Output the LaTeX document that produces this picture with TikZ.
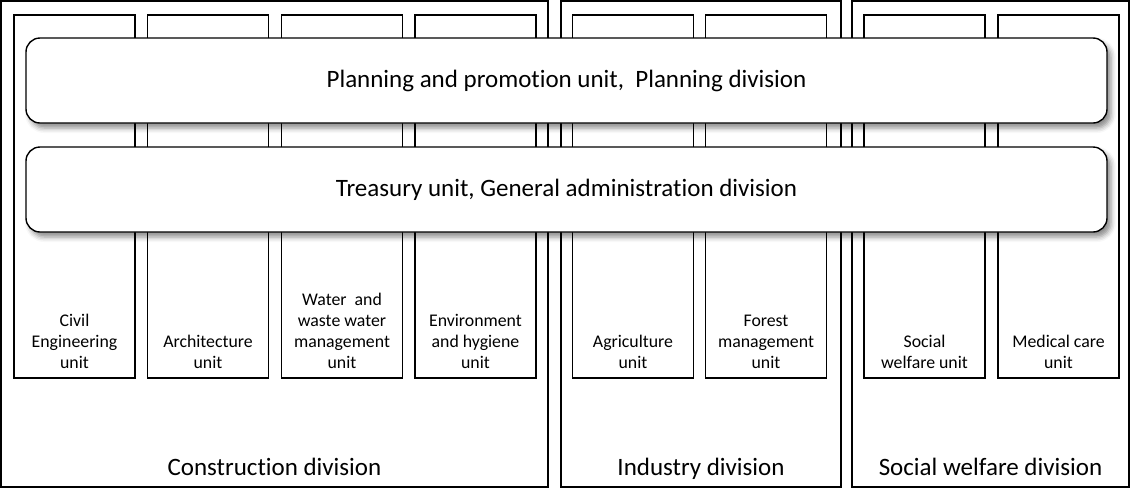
\documentclass[tikz,border=0pt]{standalone}
\usepackage{fontspec}
\setmainfont[Ligatures={NoCommon,NoContextual},RawFeature={-liga;-clig;-dlig}]{Carlito}
\usetikzlibrary{shadows.blur}
\begin{document}
\begin{tikzpicture}[x=1pt,y=-1pt,
  divbox/.style={draw=black,line width=1.3pt,inner sep=0pt},
  unitbox/.style={draw=black,line width=1.3pt,inner sep=0pt,minimum width=121pt,minimum height=363pt},
  bar/.style={draw=black,line width=1.4pt,fill=white,rounded corners=14pt,inner sep=0pt,
    minimum width=1081pt,minimum height=85pt,font=\fontsize{25}{30}\selectfont,
    blur shadow={shadow xshift=4pt,shadow yshift=-5pt,shadow blur radius=5pt,shadow opacity=45}},
  unitlabel/.style={anchor=south,align=center,inner sep=0pt,font=\fontsize{17.8}{21}\selectfont},
  divlabel/.style={anchor=base,inner sep=0pt,font=\fontsize{25}{30}\selectfont}]
\useasboundingbox (0,0) rectangle (1131,488);
% divisions
\node[divbox,minimum width=547pt,minimum height=486pt] (cons) at (274.5,244) {};
\node[divbox,minimum width=280pt,minimum height=486pt] (ind) at (701,244) {};
\node[divbox,minimum width=277pt,minimum height=486pt] (soc) at (990.5,244) {};
% units
\node[unitbox] (u1) at (74.5,196.5) {};
\node[unitbox] (u2) at (208,196.5) {};
\node[unitbox] (u3) at (342,196.5) {};
\node[unitbox] (u4) at (475.5,196.5) {};
\node[unitbox] (u5) at (633,196.5) {};
\node[unitbox] (u6) at (766,196.5) {};
\node[unitbox] (u7) at (924.5,196.5) {};
\node[unitbox] (u8) at (1058.5,196.5) {};
% unit labels
\node[unitlabel] (l1) at ([yshift=10pt]u1.south) {Civil\\Engineering\\unit};
\node[unitlabel] (l2) at ([yshift=10pt]u2.south) {Architecture\\unit};
\node[unitlabel] (l3) at ([yshift=10pt]u3.south) {Water\ \ and\\waste water\\management\\unit};
\node[unitlabel] (l4) at ([yshift=10pt]u4.south) {Environment\\and hygiene\\unit};
\node[unitlabel] (l5) at ([yshift=10pt]u5.south) {Agriculture\\unit};
\node[unitlabel] (l6) at ([yshift=10pt]u6.south) {Forest\\management\\unit};
\node[unitlabel] (l7) at ([yshift=10pt]u7.south) {Social\\welfare unit};
\node[unitlabel] (l8) at ([yshift=10pt]u8.south) {Medical care\\unit};
% division labels
\node[divlabel] (d1) at (274.5,475) {Construction division};
\node[divlabel] (d2) at (701,475) {Industry division};
\node[divlabel] (d3) at (990.5,475) {Social welfare division};
% bars
\node[bar] (plan) at (566.5,80.5) {Planning and promotion unit,\ \ Planning division};
\node[bar] (treas) at (566.5,189.5) {Treasury unit, General administration division};
\end{tikzpicture}
\end{document}
